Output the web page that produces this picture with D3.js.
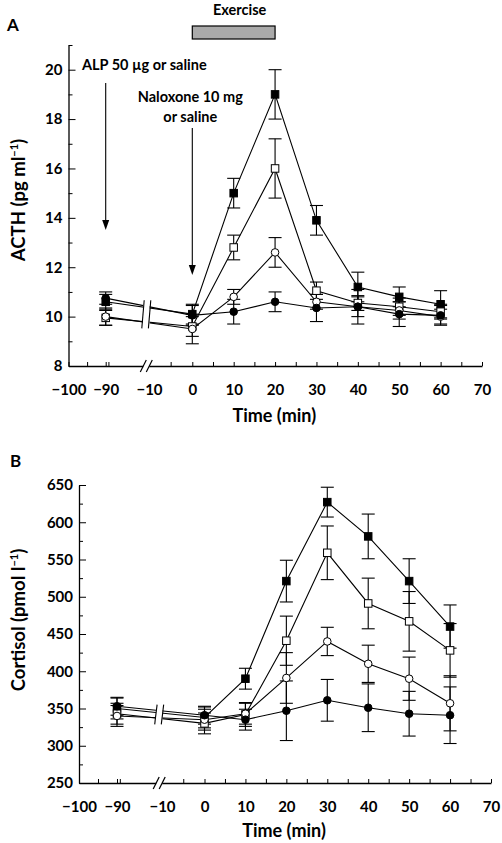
<!DOCTYPE html>
<html><head><meta charset="utf-8">
<script src="https://cdn.jsdelivr.net/npm/d3@7"></script>
<style>
body{margin:0;background:#fff}
text{font-family:Lato,'Open Sans',sans-serif;font-weight:bold;fill:#000}
</style>
</head><body>
<svg id="chart" width="502" height="843"></svg>
<script>
// ---------- data ----------
const times = [-90, 0, 10, 20, 30, 40, 50, 60];
const seriesNames = ["filledSquare", "openSquare", "openCircle", "filledCircle"];

// Panel A: ACTH (pg ml-1)
const acthFilledSquare  = [10.6, 10.1, 15.0, 19.0, 13.9, 11.2, 10.8, 10.5];
const acthFilledSquareSE= [0.3, 0.4, 0.6, 1.0, 0.6, 0.6, 0.4, 0.55];
const acthOpenSquare    = [9.95, 9.6, 12.8, 16.0, 11.05, 10.55, 10.4, 10.2];
const acthOpenSquareSE  = [0.3, 0.4, 0.5, 1.2, 0.35, 0.3, 0.35, 0.3];
const acthOpenCircle    = [10.0, 9.5, 10.8, 12.6, 10.6, 10.4, 10.25, 10.0];
const acthOpenCircleSE  = [0.35, 0.6, 0.3, 0.6, 0.3, 0.4, 0.35, 0.3];
const acthFilledCircle  = [10.75, 10.05, 10.2, 10.6, 10.35, 10.4, 10.1, 10.05];
const acthFilledCircleSE= [0.25, 0.4, 0.5, 0.4, 0.55, 0.7, 0.5, 0.4];

// Panel B: Cortisol (pmol l-1)
const cortFilledSquare  = [350, 338, 390, 521, 627, 581, 521, 460];
const cortFilledSquareSE= [14, 14, 14, 28, 20, 30, 30, 29];
const cortOpenSquare    = [343, 330, 342, 441, 559, 491, 467, 428];
const cortOpenSquareSE  = [14, 14, 16, 33, 36, 34, 40, 36];
const cortOpenCircle    = [340, 335, 343, 391, 440, 410, 390, 357];
const cortOpenCircleSE  = [14, 14, 14, 34, 19, 25, 29, 37];
const cortFilledCircle  = [353, 341, 335, 347, 361, 351, 343, 341];
const cortFilledCircleSE= [12, 12, 14, 40, 28, 32, 30, 38];

// axis ticks
const xMajorTicks = [-100, -90, -10, 0, 10, 20, 30, 40, 50, 60, 70];
const xMinorTicks = [-95, -85, -5, 5, 15, 25, 35, 45, 55, 65];
const acthMajorTicks = [8, 10, 12, 14, 16, 18, 20];
const acthMinorTicks = [9, 11, 13, 15, 17, 19, 21];
const cortMajorTicks = [250, 300, 350, 400, 450, 500, 550, 600, 650];
const cortMinorTicks = [275, 325, 375, 425, 475, 525, 575, 625];
const breakValue = -15;
const exerciseStart = 0, exerciseEnd = 20;

// ---------- drawing ----------
const svg = d3.select("#chart");
const FONT = "Lato,'Open Sans',sans-serif";

function buildSeries(vals, ses) {
  return seriesNames.map((name, i) => ({
    name,
    pts: times.map((t, j) => ({t, v: vals[i][j], se: ses[i][j]}))
  }));
}

function marker(g, name, cx, cy) {
  const s = 7.5, r = 3.8;
  if (name.endsWith("Square")) {
    g.append("rect").attr("x", cx - s/2).attr("y", cy - s/2).attr("width", s).attr("height", s)
      .attr("fill", name === "filledSquare" ? "#000" : "#fff").attr("stroke", "#000").attr("stroke-width", 1);
  } else {
    g.append("circle").attr("cx", cx).attr("cy", cy).attr("r", r)
      .attr("fill", name === "filledCircle" ? "#000" : "#fff").attr("stroke", "#000").attr("stroke-width", 1);
  }
}

function panel(cfg) {
  const x = d3.scaleLinear().domain([-100, -90, -10, 0, 70]).range(cfg.xRange);
  const y = d3.scaleLinear().domain(cfg.yDomain).range(cfg.yRange);
  const g = svg.append("g");
  const x0 = cfg.xRange[0], yBase = cfg.yRange[0];

  // y axis
  const ya = g.append("g").attr("transform", `translate(${x0},0)`)
    .call(d3.axisLeft(y).tickValues(cfg.yMajor).tickSizeInner(-7).tickSizeOuter(0).tickPadding(cfg.yPad));
  ya.selectAll("text").style("font-size", "15px").style("font-family", FONT).style("font-weight", "bold");
  g.append("g").attr("transform", `translate(${x0},0)`)
    .call(d3.axisLeft(y).tickValues(cfg.yMinor).tickSizeInner(-4).tickSizeOuter(0).tickFormat(""))
    .select(".domain").remove();

  // x axis
  const xa = g.append("g").attr("transform", `translate(0,${yBase})`)
    .call(d3.axisBottom(x).tickValues(xMajorTicks).tickSizeInner(-4).tickSizeOuter(0).tickPadding(18));
  xa.selectAll("text").style("font-size", "15px").style("font-family", FONT).style("font-weight", "bold");
  xa.selectAll(".tick").filter(d => d === -10).select("line").remove();
  g.append("g").attr("transform", `translate(0,${yBase})`)
    .call(d3.axisBottom(x).tickValues(xMinorTicks).tickSizeInner(-4).tickSizeOuter(0).tickFormat(""))
    .select(".domain").remove();
  g.selectAll(".domain").attr("stroke-width", 1.3);

  // axis break "//"
  const bx = x(breakValue);
  g.append("rect").attr("x", bx - 3).attr("y", yBase - 3).attr("width", 6).attr("height", 6).attr("fill", "#fff");
  [-3, 3].forEach(o => g.append("line").attr("x1", bx + o - 3).attr("y1", yBase + 6).attr("x2", bx + o + 3).attr("y2", yBase - 6)
    .attr("stroke", "#000").attr("stroke-width", 1.2));

  // titles
  g.append("text").attr("x", (x(-100) + x(70)) / 2 - 1).attr("y", cfg.xTitleY).attr("text-anchor", "middle")
    .style("font-size", "18px").text("Time (min)");
  const yt = g.append("text").attr("transform", `translate(${cfg.yTitleX},${cfg.yTitleY}) rotate(-90)`)
    .attr("text-anchor", "middle").style("font-size", "18.5px");
  yt.append("tspan").text(cfg.yTitle);
  yt.append("tspan").attr("dy", -7).style("font-size", "11px").text("−1");
  yt.append("tspan").attr("dy", 7).text(")");
  g.append("text").attr("x", cfg.letterX).attr("y", cfg.letterY).style("font-size", "17px").text(cfg.letter);

  const series = cfg.series;
  // lines
  const line = d3.line().x(d => x(d.t)).y(d => y(d.v));
  series.forEach(s => g.append("path").attr("d", line(s.pts)).attr("fill", "none").attr("stroke", "#000").attr("stroke-width", 1.1));

  // break on the lines
  const yAt = s => {
    const a = s.pts[0], b = s.pts[1];
    const f = (bx - x(a.t)) / (x(b.t) - x(a.t));
    return y(a.v) + f * (y(b.v) - y(a.v));
  };
  const ys = series.map(yAt);
  const yTop = d3.min(ys) - 6, yBot = d3.max(ys) + 6;
  g.append("rect").attr("x", bx - 3.3).attr("y", yTop).attr("width", 6.6).attr("height", yBot - yTop).attr("fill", "#fff");
  [-3.3, 3.3].forEach(o => g.append("line").attr("x1", bx + o - 1.2).attr("y1", yBot).attr("x2", bx + o + 1.2).attr("y2", yTop)
    .attr("stroke", "#000").attr("stroke-width", 1.1));

  // error bars
  const cap = 6.5;
  series.forEach(s => s.pts.forEach(p => {
    const cx = x(p.t), y1 = y(p.v + p.se), y2 = y(p.v - p.se);
    g.append("line").attr("x1", cx).attr("x2", cx).attr("y1", y1).attr("y2", y2).attr("stroke", "#000").attr("stroke-width", 1.1);
    [y1, y2].forEach(yy => g.append("line").attr("x1", cx - cap).attr("x2", cx + cap).attr("y1", yy).attr("y2", yy)
      .attr("stroke", "#000").attr("stroke-width", 1.1));
  }));
  // markers
  series.forEach(s => s.pts.forEach(p => marker(g, s.name, x(p.t), y(p.v))));
  return {x, y, g};
}

const A = panel({
  xRange: [68.5, 105.7, 149, 192.3, 482], yDomain: [8, 21], yRange: [366, 45],
  yMajor: acthMajorTicks, yMinor: acthMinorTicks, yPad: 6,
  xTitleY: 422, yTitleX: 25, yTitleY: 200, yTitle: "ACTH (pg ml", letter: "A", letterX: 7, letterY: 31,
  series: buildSeries([acthFilledSquare, acthOpenSquare, acthOpenCircle, acthFilledCircle],
                      [acthFilledSquareSE, acthOpenSquareSE, acthOpenCircleSE, acthFilledCircleSE])
});
const B = panel({
  xRange: [79, 117, 162, 204.5, 491], yDomain: [250, 650], yRange: [783, 485],
  yMajor: cortMajorTicks, yMinor: cortMinorTicks, yPad: 6,
  xTitleY: 837, yTitleX: 25, yTitleY: 620, yTitle: "Cortisol (pmol l", letter: "B", letterX: 10, letterY: 467,
  series: buildSeries([cortFilledSquare, cortOpenSquare, cortOpenCircle, cortFilledCircle],
                      [cortFilledSquareSE, cortOpenSquareSE, cortOpenCircleSE, cortFilledCircleSE])
});

// exercise bar and annotations (panel A)
const xa = A.x;
svg.append("rect").attr("x", xa(exerciseStart)).attr("y", 26).attr("width", xa(exerciseEnd) - xa(exerciseStart)).attr("height", 13)
  .attr("fill", "#aaa").attr("stroke", "#000").attr("stroke-width", 1.2);
svg.append("text").attr("x", (xa(exerciseStart) + xa(exerciseEnd)) / 2 + 6).attr("y", 15).attr("text-anchor", "middle")
  .style("font-size", "14.5px").text("Exercise");
svg.append("text").attr("x", 82).attr("y", 70).style("font-size", "14.5px").text("ALP 50 µg or saline");
svg.append("text").attr("x", xa(0) - 2).attr("y", 102).attr("text-anchor", "middle").style("font-size", "14.5px").text("Naloxone 10 mg");
svg.append("text").attr("x", xa(0) - 2).attr("y", 122).attr("text-anchor", "middle").style("font-size", "14.5px").text("or saline");

function arrow(xp, y0, y1) {
  svg.append("line").attr("x1", xp).attr("x2", xp).attr("y1", y0).attr("y2", y1 - 6).attr("stroke", "#000").attr("stroke-width", 1.1);
  svg.append("path").attr("d", `M${xp - 3.5},${y1 - 10}L${xp + 3.5},${y1 - 10}L${xp},${y1}Z`).attr("fill", "#000");
}
arrow(xa(-90), 83, 230);
arrow(xa(0), 128, 275);
</script>
</body></html>
